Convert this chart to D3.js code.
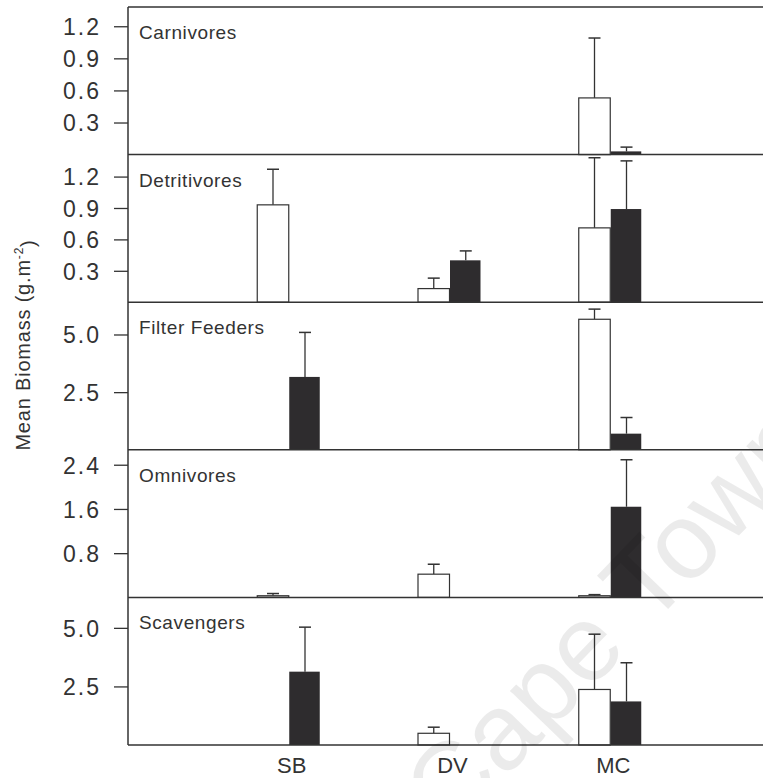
<!DOCTYPE html>
<html>
<head>
<meta charset="utf-8">
<script src="https://cdn.jsdelivr.net/npm/d3@7"></script>
<style>
  html, body { margin: 0; padding: 0; background: #fff; }
  svg { display: block; }
  text { font-family: "Liberation Sans", Arial, sans-serif; fill: #333; }
</style>
</head>
<body>
<svg id="chart" width="763" height="778"></svg>
<script>
// ---- data ----
const groups = ["Carnivores", "Detritivores", "Filter Feeders", "Omnivores", "Scavengers"];
const sites = ["SB", "DV", "MC"];
const yMax = [1.38, 1.41, 6.4, 2.67, 6.3];
const tickVals = [
  [0.3, 0.6, 0.9, 1.2],
  [0.3, 0.6, 0.9, 1.2],
  [2.5, 5.0],
  [0.8, 1.6, 2.4],
  [2.5, 5.0]
];
// open bars (per group, per site SB, DV, MC)
const openMean = [
  [0, 0, 0.53],
  [0.93, 0.13, 0.71],
  [0, 0, 5.66],
  [0.03, 0.42, 0.03],
  [0, 0.50, 2.37]
];
const openSE = [
  [0, 0, 0.56],
  [0.34, 0.10, 0.67],
  [0, 0, 0.44],
  [0.04, 0.18, 0.02],
  [0, 0.26, 2.36]
];
// filled bars
const filledMean = [
  [0, 0, 0.03],
  [0, 0.40, 0.89],
  [3.16, 0, 0.70],
  [0, 0, 1.64],
  [3.13, 0, 1.86]
];
const filledSE = [
  [0, 0, 0.04],
  [0, 0.09, 0.46],
  [1.93, 0, 0.70],
  [0, 0, 0.85],
  [1.90, 0, 1.65]
];
const yTitle = "Mean Biomass (g.m";
const yTitleSup = "-2";

// ---- layout ----
const svg = d3.select("#chart");
const W = 763;
const pLeft = 128, pRight = 771, pTop = 7, pBottom = 745;
const panelH = (pBottom - pTop) / groups.length;
const barW = 31.5;
const lineCol = "#333";

const x = d3.scalePoint().domain(sites).range([pLeft, pRight]).padding(1);

groups.forEach((g, i) => {
  const y0 = pTop + i * panelH, y1 = y0 + panelH;
  const y = d3.scaleLinear().domain([0, yMax[i]]).range([y1, y0]);
  const panel = svg.append("g");

  // axis ticks and labels
  const ax = panel.append("g")
    .attr("transform", `translate(${pLeft},0)`)
    .call(d3.axisLeft(y).tickValues(tickVals[i]).tickSize(14).tickPadding(13)
      .tickFormat(d3.format(".1f")));
  ax.select(".domain").remove();
  ax.selectAll(".tick line").attr("stroke", lineCol).attr("stroke-width", 1.3);
  ax.selectAll(".tick text")
    .attr("fill", "#333")
    .style("font-family", '"Liberation Sans", Arial, sans-serif')
    .style("font-size", "23px")
    .style("letter-spacing", "2px")
    .attr("dy", "0.36em");

  // bars
  const openData = sites.map((s, j) => ({ s, m: openMean[i][j], se: openSE[i][j] }))
    .filter(d => d.m > 0);
  const fillData = sites.map((s, j) => ({ s, m: filledMean[i][j], se: filledSE[i][j] }))
    .filter(d => d.m > 0);

  // error bars (behind bars)
  const drawErr = (data, offset) => {
    const eg = panel.append("g");
    data.forEach(d => {
      const cx = x(d.s) + offset;
      eg.append("line").attr("x1", cx).attr("x2", cx)
        .attr("y1", y(d.m)).attr("y2", y(d.m + d.se))
        .attr("stroke", lineCol).attr("stroke-width", 1.3);
      eg.append("line").attr("x1", cx - 6).attr("x2", cx + 6)
        .attr("y1", y(d.m + d.se)).attr("y2", y(d.m + d.se))
        .attr("stroke", lineCol).attr("stroke-width", 1.5);
    });
  };
  drawErr(openData, -barW / 2);
  drawErr(fillData, barW / 2 + 0.5);

  panel.selectAll("rect.open").data(openData).join("rect")
    .attr("class", "open")
    .attr("x", d => x(d.s) - barW)
    .attr("width", barW)
    .attr("y", d => y(d.m))
    .attr("height", d => y(0) - y(d.m))
    .attr("fill", "#fff")
    .attr("stroke", lineCol).attr("stroke-width", 1.2);

  panel.selectAll("rect.filled").data(fillData).join("rect")
    .attr("class", "filled")
    .attr("x", d => x(d.s) + 0.5)
    .attr("width", barW - 1)
    .attr("y", d => y(d.m))
    .attr("height", d => y(0) - y(d.m))
    .attr("fill", "#2e2c2e");

  // panel label
  panel.append("text")
    .attr("x", 139).attr("y", y0 + 32)
    .style("font-size", "19px")
    .style("letter-spacing", "0.6px")
    .text(g);

  // panel bottom line
  panel.append("line")
    .attr("x1", pLeft).attr("x2", W)
    .attr("y1", y1).attr("y2", y1)
    .attr("stroke", lineCol).attr("stroke-width", 1.5);
});

// top frame line and left axis line
svg.append("line").attr("x1", pLeft).attr("x2", W).attr("y1", pTop).attr("y2", pTop)
  .attr("stroke", lineCol).attr("stroke-width", 1.5);
svg.append("line").attr("x1", pLeft).attr("x2", pLeft).attr("y1", pTop).attr("y2", pBottom)
  .attr("stroke", lineCol).attr("stroke-width", 1.5);

// x labels
svg.append("g").selectAll("text").data(sites).join("text")
  .attr("x", d => x(d) + 3)
  .attr("y", 773)
  .attr("text-anchor", "middle")
  .style("font-size", "22px")
  .text(d => d);

// y title
const yt = svg.append("text")
  .attr("transform", "translate(30,345) rotate(-90)")
  .attr("text-anchor", "middle")
  .style("font-size", "20px")
  .style("letter-spacing", "0.8px");
yt.append("tspan").text(yTitle);
yt.append("tspan").attr("dy", "-0.6em").style("font-size", "12px").text(yTitleSup);
yt.append("tspan").attr("dy", "0.6em").text(")");

// watermark
svg.append("text")
  .attr("transform", "translate(450,835) rotate(-46)")
  .style("font-size", "108px")
  .style("fill", "#000")
  .style("fill-opacity", 0.08)
  .text("Cape Town");
</script>
</body>
</html>
